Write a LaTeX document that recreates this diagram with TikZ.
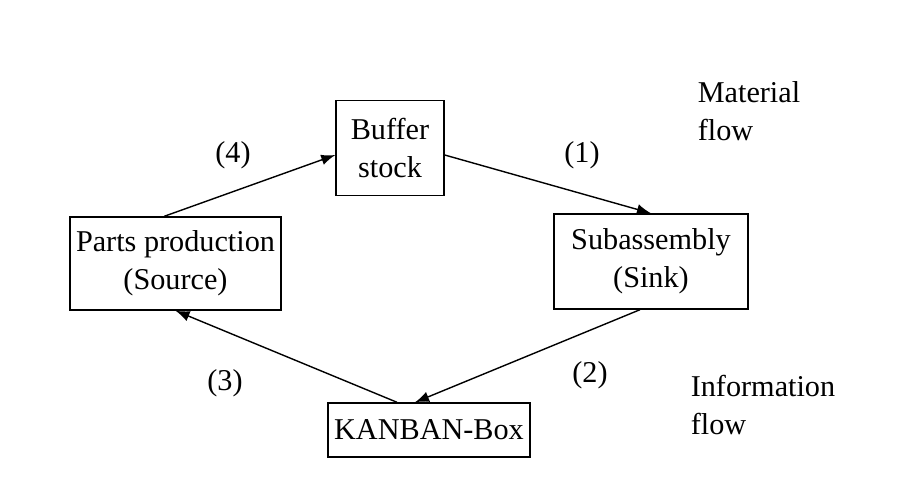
\documentclass[tikz,border=0pt]{standalone}
\usepackage{fontspec}
\setmainfont{Liberation Serif}
\usetikzlibrary{arrows.meta}
\tikzset{>=latex}
\tikzstyle{box} = [rectangle, draw = black, align = center, inner sep = 1]
\begin{document}
\begin{tikzpicture}[font=\fontsize{8.6}{10.8}\selectfont]
\useasboundingbox (0, 0) rectangle (9, 4.88);
\node [box, minimum width = 1.08cm, minimum height = 0.95cm] (B) at (3.90, 3.40) {Buffer\\stock};
\node [box, minimum width = 2.11cm, minimum height = 0.93cm] (P) at (1.755, 2.245) {Parts production\\(Source)};
\node [box, minimum width = 1.94cm, minimum height = 0.95cm] (S) at (6.51, 2.265) {Subassembly\\(Sink)};
\node [box, minimum width = 2.02cm, minimum height = 0.54cm] (K) at (4.29, 0.58) {KANBAN-Box};
\node [draw=none, align = left] (M) at (7.49, 3.77) {Material\\flow};
\node [draw=none, align = left] (I) at (7.63, 0.83) {Information\\flow};
\node [draw=none] (L4) at (2.33, 3.33) {(4)};
\node [draw=none] (L1) at (5.82, 3.33) {(1)};
\node [draw=none] (L3) at (2.25, 1.05) {(3)};
\node [draw=none] (L2) at (5.90, 1.13) {(2)};
\draw [-latex] (P.north west) ++(0.95, 0) -- (B.west |- 0, 3.33);
\draw [-latex] (B.east |- 0, 3.33) -- (S.north);
\draw [-latex] (S.south) ++(-0.11, 0) -- (K.north -| 4.15, 0);
\draw [-latex] (K.north -| 3.97, 0) -- (P.south);
\end{tikzpicture}
\end{document}
